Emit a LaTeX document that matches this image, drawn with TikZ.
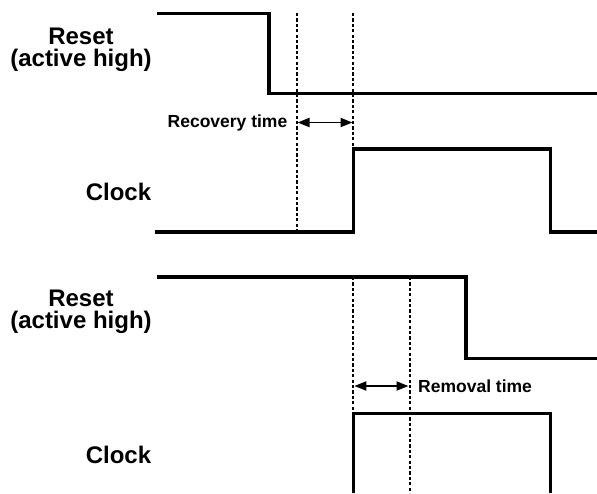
\documentclass[tikz,border=0pt]{standalone}
\usepackage{fontspec}
\setmainfont{Liberation Sans}
\usetikzlibrary{arrows.meta}
\tikzset{
  wave/.style={line width=3.4pt, line join=miter},
  guide/.style={line width=2pt, dash pattern=on 3.2pt off 2.2pt},
  dimarrow/.style={line width=1.8pt, {Triangle[length=12pt,width=9pt]}-{Triangle[length=12pt,width=9pt]}},
  biglabel/.style={font=\bfseries\fontsize{24}{22.5}\selectfont, align=center, inner sep=0pt},
  smalllabel/.style={font=\bfseries\fontsize{17.5}{18}\selectfont, inner sep=0pt}
}
\begin{document}
\begin{tikzpicture}[x=1pt,y=-1pt]
\useasboundingbox (0,0) rectangle (597,493);
% top section
\coordinate (r1a) at (157,13.5);
\coordinate (r1b) at (269,13.5);
\coordinate (r1c) at (269,93.5);
\coordinate (r1d) at (597,93.5);
\draw[wave] (r1a) -- (r1b) -- (r1c) -- (r1d);
\coordinate (c1a) at (155,232);
\coordinate (c1b) at (353.3,232);
\coordinate (c1c) at (353.3,149);
\coordinate (c1d) at (550.5,149);
\coordinate (c1e) at (550.5,232);
\coordinate (c1f) at (597,232);
\draw[wave] (c1a) -- (c1b) -- (c1c) -- (c1d) -- (c1e) -- (c1f);
\coordinate (g1t) at (296.5,13);
\coordinate (g1b) at (296.5,232);
\coordinate (g2t) at (353.3,13);
\coordinate (g2b) at (353.3,149);
\draw[guide] (g1t) -- (g1b);
\draw[guide] (g2t) -- (g2b);
\coordinate (a1l) at (297.5,122.5);
\coordinate (a1r) at (352.5,122.5);
\draw[dimarrow] (a1l) -- (a1r);
\node[smalllabel, anchor=east] (rec) at (287.5,122.5) {Recovery time};
\node[biglabel] (rst1) at (81,50) {Reset\\(active high)};
\node[biglabel] (clk1) at (118.5,192) {Clock};
% bottom section
\coordinate (r2a) at (157,277);
\coordinate (r2b) at (466,277);
\coordinate (r2c) at (466,358.5);
\coordinate (r2d) at (597,358.5);
\draw[wave] (r2a) -- (r2b) -- (r2c) -- (r2d);
\coordinate (c2a) at (353.3,493);
\coordinate (c2b) at (353.3,413.5);
\coordinate (c2c) at (550.5,413.5);
\coordinate (c2d) at (550.5,493);
\draw[wave] (c2a) -- (c2b) -- (c2c) -- (c2d);
\coordinate (g3t) at (353.3,277);
\coordinate (g3b) at (353.3,493);
\coordinate (g4t) at (409.5,277);
\coordinate (g4b) at (409.5,493);
\draw[guide] (g3t) -- (g3b);
\draw[guide] (g4t) -- (g4b);
\coordinate (a2l) at (354.3,386);
\coordinate (a2r) at (408.5,386);
\draw[dimarrow] (a2l) -- (a2r);
\node[smalllabel, anchor=west] (rem) at (418,386) {Removal time};
\node[biglabel] (rst2) at (81,312) {Reset\\(active high)};
\node[biglabel] (clk2) at (118.5,455) {Clock};
\end{tikzpicture}
\end{document}
